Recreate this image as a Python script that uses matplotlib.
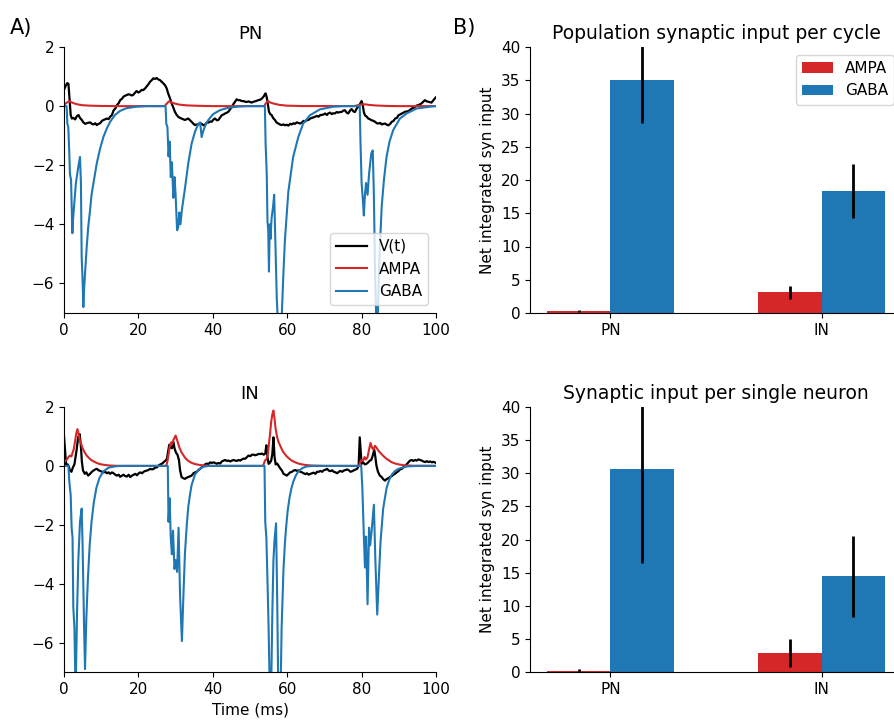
import numpy as np
import matplotlib
matplotlib.use("Agg")
import matplotlib.pyplot as plt

# ---------------- data ----------------
pn_v_t = [0, 0.5, 0.9, 1.2, 1.45, 1.8, 2.1, 2.5, 3.0, 3.4, 3.9, 4.3, 4.8, 5.2, 5.7, 6.3, 7.0, 7.5, 7.9, 8.4,
          8.8, 9.3, 9.7, 10.2, 10.6, 11.0, 11.5, 12.0, 12.4, 12.9, 13.3, 13.8, 14.2, 14.7, 15.1, 15.6, 16.0, 16.4,
          16.8, 17.3, 17.7, 18.2, 18.6, 19.1, 19.5, 20.0, 20.4, 20.9, 21.3, 21.8, 22.2, 22.7, 23.1, 23.6, 24.0,
          24.5, 24.9, 25.4, 25.8, 26.3, 26.7, 27.2, 27.6, 28.0, 28.5, 28.9, 29.4, 29.8, 30.3, 30.7, 31.2, 31.6,
          32.1, 32.5, 33.0, 33.4, 33.9, 34.3, 34.8, 35.2, 35.7, 36.1, 36.6, 37.0, 37.5, 37.9, 38.4, 38.8, 39.3,
          39.7, 40.2, 40.6, 41.1, 41.5, 42.0, 42.4, 42.9, 43.3, 43.8, 44.2, 44.7, 45.1, 45.6, 46.0, 46.4, 46.9,
          47.3, 47.8, 48.2, 48.7, 49.1, 49.6, 50.0, 50.4, 51.0, 51.6, 52.2, 52.8, 53.3, 53.7, 54.0, 54.2, 54.5,
          54.7, 55.1, 55.5, 55.8, 56.2, 56.7, 57.1, 57.6, 58.0, 58.5, 59.0, 59.4, 59.9, 60.3, 60.8, 61.2, 61.7,
          62.1, 62.6, 63.0, 63.5, 63.9, 64.4, 64.8, 65.3, 65.7, 66.2, 66.6, 67.1, 67.5, 68.0, 68.4, 68.9, 69.3,
          69.8, 70.2, 70.7, 71.0, 71.5, 72.0, 72.4, 72.8, 73.3, 73.7, 74.2, 74.6, 75.1, 75.5, 76.0, 76.4, 76.9,
          77.3, 77.8, 78.2, 78.7, 79.1, 79.6, 80.0, 80.3, 80.6, 80.9, 81.4, 81.8, 82.3, 82.7, 83.2, 83.6, 84.1,
          84.5, 85.0, 85.4, 85.9, 86.3, 86.8, 87.2, 87.7, 88.1, 88.6, 89.0, 89.5, 89.9, 90.4, 90.8, 91.3, 91.7,
          92.2, 92.6, 93.1, 93.5, 94.0, 94.4, 94.8, 95.2, 95.7, 96.1, 96.6, 97.0, 97.5, 97.9, 98.4, 98.8, 99.3,
          99.7, 100.0]
pn_v = [0.55, 0.7, 0.78, 0.75, 0.3, -0.3, -0.42, -0.4, -0.45, -0.35, -0.3, -0.4, -0.47, -0.55, -0.6, -0.57,
        -0.55, -0.6, -0.62, -0.58, -0.64, -0.6, -0.58, -0.5, -0.47, -0.45, -0.42, -0.44, -0.36, -0.3, -0.15,
        -0.08, 0.03, 0.1, 0.2, 0.25, 0.32, 0.35, 0.37, 0.4, 0.39, 0.36, 0.38, 0.45, 0.51, 0.46, 0.49, 0.55,
        0.54, 0.6, 0.66, 0.74, 0.82, 0.88, 0.94, 0.92, 0.95, 0.9, 0.88, 0.82, 0.77, 0.7, 0.6, 0.43, 0.26, 0.1,
        -0.05, -0.19, -0.3, -0.36, -0.4, -0.42, -0.45, -0.47, -0.44, -0.42, -0.48, -0.53, -0.6, -0.64, -0.62,
        -0.63, -0.58, -0.6, -0.65, -0.63, -0.55, -0.56, -0.52, -0.53, -0.45, -0.42, -0.48, -0.47, -0.38, -0.31,
        -0.28, -0.25, -0.22, -0.19, -0.1, -0.02, 0.08, 0.15, 0.23, 0.2, 0.2, 0.17, 0.17, 0.15, 0.14, 0.16,
        0.14, 0.12, 0.15, 0.17, 0.2, 0.22, 0.27, 0.33, 0.4, 0.43, 0.3, 0.15, -0.19, -0.28, -0.3, -0.4, -0.47,
        -0.55, -0.59, -0.62, -0.64, -0.62, -0.65, -0.63, -0.66, -0.6, -0.62, -0.58, -0.6, -0.55, -0.57, -0.59,
        -0.56, -0.5, -0.52, -0.47, -0.47, -0.42, -0.4, -0.38, -0.36, -0.33, -0.36, -0.3, -0.3, -0.28, -0.25,
        -0.3, -0.25, -0.22, -0.27, -0.24, -0.25, -0.2, -0.22, -0.2, -0.2, -0.15, -0.14, -0.22, -0.25, -0.15,
        -0.1, -0.18, -0.2, -0.08, -0.02, 0.08, 0.17, 0.05, -0.2, -0.31, -0.36, -0.42, -0.45, -0.48, -0.5,
        -0.53, -0.58, -0.59, -0.57, -0.62, -0.6, -0.59, -0.63, -0.65, -0.6, -0.53, -0.5, -0.42, -0.4, -0.31,
        -0.28, -0.25, -0.22, -0.19, -0.18, -0.17, -0.12, -0.08, -0.05, -0.02, 0.02, 0.03, 0.06, 0.09, 0.15,
        0.2, 0.16, 0.15, 0.13, 0.12, 0.2, 0.26, 0.3]

pn_ampa_t = [0, 0.8, 1.4, 2.0, 3.0, 4.0, 5.0, 7.0, 10.0, 15.0, 27.0, 27.6, 28.2, 29.0, 30.0, 31.0, 33.0, 36.0,
             40.0, 53.8, 54.3, 54.8, 55.5, 56.5, 58.0, 60.0, 64.0, 78.0, 79.0, 80.0, 81.0, 82.0, 84.0, 87.0,
             90.0, 100.0]
pn_ampa = [0.05, 0.12, 0.17, 0.13, 0.08, 0.05, 0.03, 0.015, 0.005, 0.0, 0.0, 0.08, 0.16, 0.12, 0.08, 0.05,
           0.025, 0.01, 0.0, 0.0, 0.1, 0.17, 0.12, 0.08, 0.04, 0.015, 0.003, 0.0, 0.03, 0.06, 0.06, 0.04, 0.02,
           0.005, 0.0, 0.0]

pn_gaba_t = [0, 0.7, 0.9, 1.15, 1.4, 1.6, 1.9, 2.05, 2.25, 2.45, 2.7, 3.2, 3.85, 4.3, 4.55, 4.75, 5.0, 5.2,
             5.4, 5.65, 6.1, 6.5, 7.0, 7.4, 7.9, 8.8, 9.7, 10.6, 11.5, 12.4, 13.7, 15.1, 16.8, 19.5, 22.2,
             27.3, 27.5, 27.8, 28.1, 28.4, 28.7, 29.0, 29.4, 29.7, 30.0, 30.4, 30.7, 31.0, 31.3, 31.7, 32.5,
             33.4, 34.3, 35.2, 36.1, 36.6, 37.0, 37.4, 38.0, 38.8, 40.1, 41.9, 43.7, 46.4, 49.0,
             54.0, 54.2, 54.5, 54.7, 54.9, 55.1, 55.3, 55.5, 55.8, 56.2, 56.5, 56.8, 57.2, 57.6, 58.1, 58.5,
             59.0, 59.4, 60.3, 61.6, 63.0, 64.3, 66.1, 68.8, 72.4, 75.0,
             79.5, 79.7, 80.0, 80.3, 80.6, 80.9, 81.2, 81.6, 82.0, 82.6, 83.0, 83.3, 83.6, 84.0, 84.3, 84.6,
             84.9, 85.4, 86.0, 86.7, 87.5, 88.5, 90.3, 92.1, 94.8, 98.4, 100.0]
pn_gaba = [0, 0, -0.6, -0.7, -1.5, -2.3, -2.5, -3.3, -4.3, -3.8, -3.4, -2.6, -2.05, -1.72, -2.6, -5.1, -5.9,
           -6.8, -6.2, -5.67, -4.77, -4.1, -3.53, -3.0, -2.62, -1.94, -1.44, -1.04, -0.76, -0.53, -0.3, -0.16,
           -0.07, -0.02, 0.0,
           0.0, -0.6, -0.7, -1.7, -1.2, -2.4, -1.9, -3.1, -2.4, -3.0, -4.2, -4.1, -3.6, -4.0, -3.5, -2.8,
           -1.94, -1.27, -0.87, -0.6, -0.55, -1.05, -0.85, -0.65, -0.47, -0.27, -0.14, -0.07, -0.02, 0.0,
           0.0, -1.3, -2.3, -3.9, -4.2, -5.6, -4.0, -4.5, -3.8, -3.4, -3.0, -4.5, -6.5, -7.6, -7.6, -7.2,
           -5.6, -4.5, -2.9, -1.72, -1.04, -0.59, -0.31, -0.11, -0.02, 0.0,
           0.0, -1.2, -2.6, -3.1, -3.7, -3.0, -2.6, -3.0, -2.3, -1.6, -1.5, -3.0, -5.5, -7.5, -7.3, -6.0,
           -4.8, -3.4, -2.5, -1.72, -1.2, -0.81, -0.42, -0.25, -0.08, -0.02, 0.0]

in_v_t = [0, 0.3, 0.6, 1.0, 1.3, 1.6, 2.0, 2.4, 2.8, 3.1, 3.4, 3.8, 4.2, 4.5, 4.8, 5.1, 5.6, 6.0, 6.5, 7.0,
          7.5, 7.9, 8.4, 8.8, 9.3, 9.7, 10.2, 10.6, 11.1, 11.5, 12.0, 12.4, 12.9, 13.3, 13.8, 14.2, 14.7, 15.1,
          15.6, 16.0, 16.5, 16.9, 17.4, 17.8, 18.3, 18.7, 19.2, 19.6, 20.1, 20.5, 21.0, 21.4, 21.9, 22.3, 22.8,
          23.2, 23.7, 24.1, 24.6, 25.0, 25.5, 25.9, 26.4, 26.8, 27.3, 27.7, 28.0, 28.3, 28.6, 29.0, 29.4, 29.7,
          30.1, 30.5, 30.9, 31.2, 31.6, 32.1, 32.5, 33.0, 33.4, 33.9, 34.3, 34.8, 35.2, 35.7, 36.1, 36.6, 37.0,
          37.5, 37.9, 38.4, 38.8, 39.3, 39.7, 40.2, 40.6, 41.1, 41.5, 42.0, 42.4, 42.9, 43.3, 43.8, 44.2, 44.7,
          45.1, 45.6, 46.0, 46.5, 46.9, 47.4, 47.8, 48.3, 48.7, 49.2, 49.6, 50.1, 50.5, 51.0, 51.4, 51.9, 52.3,
          52.8, 53.2, 53.7, 54.1, 54.4, 54.7, 55.0, 55.3, 55.7, 56.0, 56.3, 56.6, 56.9, 57.3, 57.7, 58.1, 58.6,
          59.0, 59.5, 59.9, 60.4, 60.8, 61.3, 61.7, 62.2, 62.6, 63.1, 63.5, 64.0, 64.4, 64.9, 65.3, 65.8, 66.2,
          66.7, 67.1, 67.6, 68.0, 68.5, 68.9, 69.4, 69.8, 70.3, 70.7, 71.2, 71.6, 72.1, 72.5, 73.0, 73.4, 73.9,
          74.3, 74.8, 75.2, 75.7, 76.1, 76.6, 77.0, 77.5, 77.9, 78.4, 78.8, 79.2, 79.5, 79.8, 80.0, 80.4, 80.9,
          81.3, 81.8, 82.2, 82.6, 83.0, 83.4, 83.7, 84.0, 84.4, 84.9, 85.4, 85.8, 86.3, 86.7, 87.2, 87.6, 88.1,
          88.5, 89.0, 89.4, 89.9, 90.3, 90.8, 91.2, 91.7, 92.1, 92.6, 93.0, 93.5, 93.9, 94.4, 94.8, 95.3, 95.7,
          96.2, 96.6, 97.1, 97.5, 98.0, 98.4, 98.9, 99.3, 100.0]
in_v = [1.0, 0.5, 0.0, 0.05, -0.02, -0.16, -0.2, -0.05, 0.05, 0.3, 0.55, 0.97, 1.08, 0.75, 0.15, -0.15, -0.27,
        -0.22, -0.33, -0.27, -0.2, -0.16, -0.12, -0.1, -0.15, -0.17, -0.2, -0.22, -0.2, -0.25, -0.22, -0.27,
        -0.22, -0.25, -0.3, -0.33, -0.3, -0.37, -0.33, -0.3, -0.35, -0.36, -0.3, -0.38, -0.33, -0.3, -0.27,
        -0.32, -0.25, -0.22, -0.25, -0.2, -0.17, -0.16, -0.13, -0.1, -0.12, -0.1, -0.05, -0.05, 0.02, 0.05,
        0.08, 0.13, 0.18, 0.25, 0.5, 0.72, 0.62, 0.6, 0.82, 0.6, 0.45, 0.38, 0.2, -0.15, -0.38, -0.42, -0.44,
        -0.4, -0.38, -0.35, -0.33, -0.25, -0.22, -0.2, -0.15, -0.1, -0.05, 0.0, 0.05, 0.08, 0.06, 0.12, 0.1,
        0.12, 0.1, 0.07, 0.1, 0.08, 0.15, 0.18, 0.2, 0.17, 0.18, 0.15, 0.18, 0.2, 0.18, 0.17, 0.2, 0.18, 0.22,
        0.25, 0.24, 0.3, 0.35, 0.33, 0.38, 0.38, 0.36, 0.38, 0.41, 0.4, 0.42, 0.38, 0.42, 0.7, 0.3, 0.07, 0.1,
        0.18, 0.4, 0.97, 0.3, 0.05, 0.08, 0.0, -0.08, -0.16, -0.27, -0.3, -0.33, -0.27, -0.22, -0.2, -0.16,
        -0.14, -0.17, -0.15, -0.2, -0.22, -0.25, -0.28, -0.25, -0.3, -0.27, -0.25, -0.23, -0.27, -0.2, -0.2,
        -0.17, -0.2, -0.15, -0.13, -0.1, -0.16, -0.18, -0.15, -0.2, -0.22, -0.25, -0.2, -0.17, -0.2, -0.16,
        -0.14, -0.12, -0.15, -0.2, -0.18, -0.15, -0.12, -0.1, 0.0, 0.97, 0.4, 0.07, 0.12, 0.05, 0.07, 0.12,
        0.18, 0.2, 0.35, 0.55, 0.3, 0.0, -0.2, -0.33, -0.38, -0.45, -0.5, -0.45, -0.42, -0.38, -0.35, -0.3,
        -0.27, -0.22, -0.18, -0.12, -0.1, -0.05, 0.0, 0.05, 0.12, 0.18, 0.2, 0.17, 0.2, 0.18, 0.22, 0.2, 0.18,
        0.15, 0.13, 0.16, 0.13, 0.15, 0.12, 0.14, 0.1]

in_ampa_t = [0, 0.4, 0.8, 1.2, 1.6, 2.0, 2.3, 2.6, 3.0, 3.3, 3.6, 3.9, 4.2, 4.6, 5.0, 5.5, 6.1, 6.7, 7.3, 8.0,
             8.8, 9.7, 10.6, 12.0, 14.0, 16.0, 27.5, 27.8, 28.1, 28.4, 28.8, 29.1, 29.4, 29.7, 30.0, 30.3, 30.6,
             31.0, 31.6, 32.2, 32.8, 33.4, 34.2, 35.0, 36.0, 37.5, 40.0, 53.5, 53.8, 54.0, 54.4, 54.8, 55.1,
             55.4, 55.7, 56.0, 56.3, 56.6, 56.9, 57.3, 57.7, 58.1, 58.6, 59.0, 59.5, 59.9, 60.5, 61.2, 62.0,
             63.0, 64.0, 65.0, 67.0, 70.0, 79.3, 79.6, 80.0, 80.4, 80.8, 81.2, 81.6, 82.0, 82.4, 82.8, 83.2,
             83.6, 84.0, 84.5, 85.0, 85.5, 86.0, 86.6, 87.3, 88.0, 89.0, 90.0, 91.5, 94.0, 100.0]
in_ampa = [0.1, 0.18, 0.22, 0.3, 0.35, 0.32, 0.45, 0.55, 0.86, 1.1, 1.25, 1.1, 0.9, 0.75, 0.6, 0.47, 0.35,
           0.27, 0.2, 0.15, 0.1, 0.06, 0.04, 0.015, 0.004, 0.0, 0.0, 0.15, 0.38, 0.65, 0.8, 0.75, 0.88, 0.95,
           1.03, 0.92, 0.8, 0.63, 0.46, 0.34, 0.24, 0.17, 0.11, 0.07, 0.04, 0.015, 0.0, 0.0, 0.1, 0.18, 0.22,
           0.4, 0.75, 1.1, 1.5, 1.75, 1.88, 1.6, 1.25, 0.97, 0.8, 0.69, 0.55, 0.46, 0.38, 0.32, 0.25, 0.18,
           0.13, 0.08, 0.05, 0.03, 0.01, 0.0, 0.0, 0.12, 0.2, 0.17, 0.3, 0.22, 0.3, 0.55, 0.78, 0.62, 0.55,
           0.68, 0.62, 0.52, 0.45, 0.38, 0.32, 0.25, 0.19, 0.13, 0.08, 0.05, 0.02, 0.005, 0.0]

in_gaba_t = [0, 1.2, 1.4, 1.8, 2.05, 2.3, 2.5, 2.8, 3.05, 3.2, 3.5, 3.85, 4.3, 4.75, 5.0, 5.4, 5.65, 6.0, 6.4,
             6.9, 7.4, 8.0, 8.7, 9.5, 10.6, 12.0, 14.0, 16.0, 27.9, 28.1, 28.4, 28.7, 29.0, 29.3, 29.7, 30.0,
             30.4, 30.8, 31.2, 31.7, 32.1, 32.5, 33.0, 33.4, 33.9, 34.3, 35.2, 36.2, 37.5, 39.0, 53.9, 54.1,
             54.4, 54.7, 55.0, 55.3, 55.7, 56.0, 56.3, 56.6, 57.0, 57.3, 57.6, 58.2, 58.5, 59.0, 59.4, 59.7,
             60.1, 60.6, 61.1, 61.6, 62.3, 63.0, 64.0, 65.2, 67.0, 79.9, 80.2, 80.6, 80.9, 81.2, 81.6, 82.0,
             82.3, 82.7, 83.3, 83.7, 84.2, 84.6, 85.1, 85.8, 86.7, 87.4, 88.1, 89.0, 89.9, 92.1, 95.0, 100.0]
in_gaba = [0.0, 0.0, -0.5, -1.0, -2.1, -2.45, -4.8, -5.5, -7.3, -7.2, -5.0, -3.2, -1.9, -1.45, -2.7, -5.5,
           -6.9, -5.2, -3.9, -2.7, -1.9, -1.25, -0.75, -0.42, -0.18, -0.06, -0.01, 0.0, 0.0, -1.9, -1.1, -2.45,
           -3.0, -2.2, -3.5, -3.2, -3.6, -2.1, -4.4, -5.95, -4.4, -3.0, -2.0, -1.4, -0.95, -0.65, -0.3, -0.12,
           -0.03, 0.0, 0.0, -1.9, -2.45, -3.9, -5.5, -7.5, -7.5, -5.0, -3.2, -2.5, -1.95, -4.4, -7.6, -7.8,
           -5.5, -3.5, -2.6, -2.1, -1.55, -1.1, -0.78, -0.55, -0.33, -0.19, -0.08, -0.02, 0.0, 0.0, -0.76,
           -2.35, -3.45, -2.4, -4.7, -2.1, -2.7, -2.2, -1.32, -3.2, -5.05, -3.9, -2.55, -1.45, -0.76, -0.48,
           -0.3, -0.17, -0.1, -0.02, 0.0, 0.0]

groups = ["PN", "IN"]
pop_ampa = [0.3, 3.1]
pop_ampa_err = [0.1, 1.0]
pop_gaba = [35.0, 18.35]
pop_gaba_err = [6.4, 4.05]
single_ampa = [0.15, 2.9]
single_ampa_err = [0.3, 2.1]
single_gaba = [30.7, 14.45]
single_gaba_err = [14.3, 6.15]

RED = "#d62728"
BLUE = "#1f77b4"

plt.rcParams["font.family"] = ["DejaVu Sans"]
plt.rcParams["xtick.labelsize"] = 11
plt.rcParams["ytick.labelsize"] = 11

fig = plt.figure(figsize=(8.94, 7.2), dpi=100)
W, H = 894.0, 720.0

def axes_px(x0, y0, x1, y1):
    return fig.add_axes([x0 / W, 1 - y1 / H, (x1 - x0) / W, (y1 - y0) / H])

ax_pn = axes_px(64, 47, 436, 313)
ax_in = axes_px(64, 407, 436, 672)
ax_b1 = axes_px(530, 47, 902, 313)
ax_b2 = axes_px(530, 407, 902, 672)

def trace_panel(ax, vt, v, at, a, gt, g, title, legend=False, xlabel=None):
    ax.plot(vt, v, color="black", lw=1.6, label="V(t)")
    ax.plot(at, a, color=RED, lw=1.5, label="AMPA")
    ax.plot(gt, g, color=BLUE, lw=1.5, label="GABA")
    ax.set_xlim(0, 100)
    ax.set_ylim(-7, 2)
    ax.set_xticks([0, 20, 40, 60, 80, 100])
    ax.set_yticks([2, 0, -2, -4, -6])
    ax.spines["top"].set_visible(False)
    ax.spines["right"].set_visible(False)
    ax.set_title(title, fontsize=13)
    if legend:
        ax.legend(loc="lower right", fontsize=11)
    if xlabel:
        ax.set_xlabel(xlabel, fontsize=11)

trace_panel(ax_pn, pn_v_t, pn_v, pn_ampa_t, pn_ampa, pn_gaba_t, pn_gaba, "PN", legend=True)
trace_panel(ax_in, in_v_t, in_v, in_ampa_t, in_ampa, in_gaba_t, in_gaba, "IN", xlabel="Time (ms)")

def bar_panel(ax, ampa, ampa_err, gaba, gaba_err, title, legend=False):
    x = np.arange(len(groups))
    w = 0.3
    ek = dict(ecolor="black", elinewidth=2, capsize=0)
    ax.bar(x - w / 2, ampa, w, yerr=ampa_err, color=RED, label="AMPA", error_kw=ek)
    ax.bar(x + w / 2, gaba, w, yerr=gaba_err, color=BLUE, label="GABA", error_kw=ek)
    ax.set_xticks(x)
    ax.set_xticklabels(groups)
    ax.set_ylim(0, 40)
    ax.set_xlim(-0.38, 1.38)
    ax.set_yticks(np.arange(0, 41, 5))
    ax.spines["top"].set_visible(False)
    ax.spines["right"].set_visible(False)
    ax.set_ylabel("Net integrated syn input", fontsize=11)
    ax.set_title(title, fontsize=13.5)
    if legend:
        ax.legend(loc="upper right", fontsize=11)

bar_panel(ax_b1, pop_ampa, pop_ampa_err, pop_gaba, pop_gaba_err, "Population synaptic input per cycle", legend=True)
bar_panel(ax_b2, single_ampa, single_ampa_err, single_gaba, single_gaba_err, "Synaptic input per single neuron")

fig.text(10 / W, 1 - 28 / H, "A)", fontsize=15, va="center", ha="left")
fig.text(453 / W, 1 - 28 / H, "B)", fontsize=15, va="center", ha="left")

fig.savefig("out.png", dpi=100)
